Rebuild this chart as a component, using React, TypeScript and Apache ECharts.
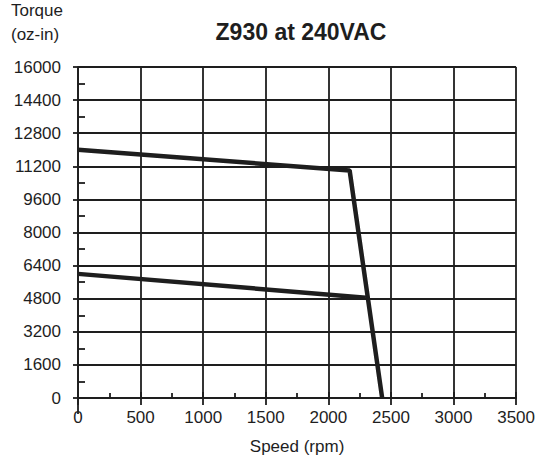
import React, { useEffect, useRef } from "react";
import * as echarts from "echarts";

const speedTicks = [0, 500, 1000, 1500, 2000, 2500, 3000, 3500];
const torqueTicks = [0, 1600, 3200, 4800, 6400, 8000, 9600, 11200, 12800, 14400, 16000];
const peakSpeed = [0, 2170, 2430];
const peakTorque = [12000, 11000, 0];
const contSpeed = [0, 2300];
const contTorque = [6000, 4850];

const FONT = "Liberation Sans, Arial, sans-serif";
const INK = "#1e1e1e";

export default function App() {
  const ref = useRef<HTMLDivElement>(null);
  useEffect(() => {
    if (!ref.current) return;
    const chart = echarts.init(ref.current, undefined, { renderer: "svg" });
    const toPairs = (xs: number[], ys: number[]) => xs.map((x, i) => [x, ys[i]]);
    const tickLine = { color: INK, width: 1.8 };
    const xRange = { min: speedTicks[0], max: speedTicks[speedTicks.length - 1], interval: 500 };
    const yRange = { min: torqueTicks[0], max: torqueTicks[torqueTicks.length - 1], interval: 1600 };
    chart.setOption({
      animation: false,
      backgroundColor: "#ffffff",
      textStyle: { fontFamily: FONT },
      title: {
        text: "Z930 at 240VAC",
        left: 296,
        top: 15,
        textAlign: "center",
        textStyle: { fontFamily: FONT, fontSize: 23, fontWeight: "bold", color: INK },
      },
      graphic: [
        { type: "text", left: 11, top: 2, style: { text: "Torque", font: `17px ${FONT}`, fill: INK } },
        { type: "text", left: 11, top: 26, style: { text: "(oz-in)", font: `17px ${FONT}`, fill: INK } },
        { type: "line", shape: { x1: 78, y1: 398, x2: 78, y2: 414 }, style: { stroke: INK, lineWidth: 1.8 } },
      ],
      grid: { left: 78, top: 67, width: 443, height: 331, containLabel: false },
      xAxis: [
        {
          type: "value",
          ...xRange,
          name: "Speed (rpm)",
          nameLocation: "middle",
          nameGap: 40,
          nameTextStyle: { fontFamily: FONT, fontSize: 17, color: INK },
          axisLine: { lineStyle: tickLine },
          axisTick: { show: true, inside: true, length: 6, lineStyle: tickLine },
          minorTick: { show: true, splitNumber: 2, length: 5, lineStyle: tickLine },
          axisLabel: { fontFamily: FONT, fontSize: 17, color: INK, margin: 11, formatter: (v: number) => String(v) },
          splitLine: { show: true, lineStyle: tickLine },
        },
        {
          type: "value",
          position: "bottom",
          ...xRange,
          axisLine: { show: false },
          axisTick: { show: true, inside: false, length: 7, lineStyle: tickLine },
          axisLabel: { show: false },
          splitLine: { show: false },
        },
      ],
      yAxis: [
        {
          type: "value",
          ...yRange,
          axisLine: { show: true, lineStyle: tickLine },
          axisTick: { show: true, inside: true, length: 7, lineStyle: tickLine },
          minorTick: { show: true, splitNumber: 2, length: 7, lineStyle: tickLine },
          axisLabel: { fontFamily: FONT, fontSize: 17, color: INK, margin: 17, formatter: (v: number) => String(v) },
          splitLine: { show: true, lineStyle: tickLine },
        },
        {
          type: "value",
          position: "left",
          ...yRange,
          axisLine: { show: false },
          axisTick: { show: true, inside: false, length: 5, lineStyle: tickLine },
          axisLabel: { show: false },
          splitLine: { show: false },
        },
      ],
      series: [
        {
          type: "line",
          data: toPairs(peakSpeed, peakTorque),
          symbol: "none",
          lineStyle: { color: INK, width: 4.5 },
        },
        {
          type: "line",
          data: toPairs(contSpeed, contTorque),
          symbol: "none",
          lineStyle: { color: INK, width: 4.5 },
        },
      ],
    });
    return () => chart.dispose();
  }, []);
  return (
    <div
      ref={ref}
      style={{ position: "fixed", left: 0, top: 0, width: 538, height: 461 }}
    />
  );
}
